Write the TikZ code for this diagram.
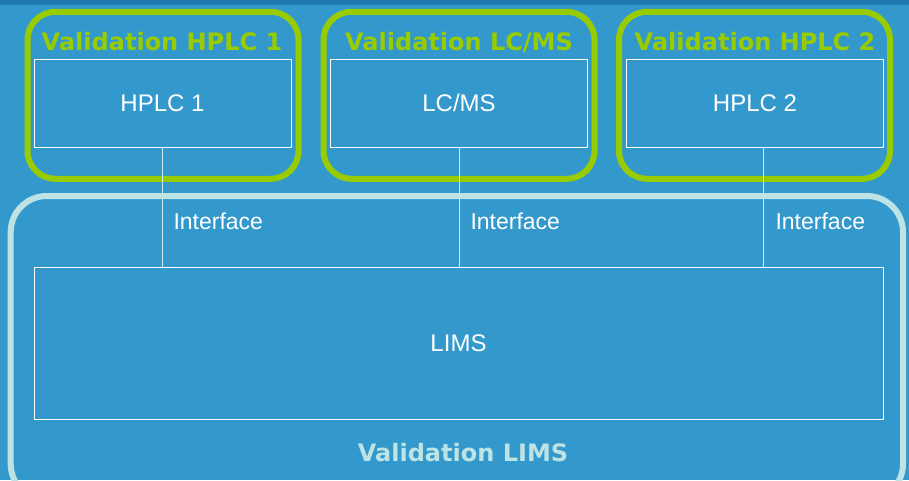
\documentclass[tikz,border=0pt]{standalone}
\usepackage{fontspec}
\setmainfont{Liberation Sans}
\newfontfamily\valfont{DejaVu Sans}
\usepackage{tikz}
\usetikzlibrary{calc}
\definecolor{bgblue}{rgb}{0.2,0.6,0.8}
\definecolor{topblue}{rgb}{0.13,0.47,0.68}
\definecolor{valgreen}{rgb}{0.6,0.8,0.}
\definecolor{limscyan}{rgb}{0.74,0.89,0.9}
\tikzstyle{every node}=[font=\fontsize{24}{28}\selectfont,text=white]

\begin{document}
\begin{tikzpicture}[line cap=round,line join=round,x=1pt,y=-1pt,
    devbox/.style={draw=white,line width=0.9pt,inner sep=0pt,minimum width=257pt,minimum height=88pt},
    valframe/.style={draw=valgreen,line width=6pt,rounded corners=28pt,inner sep=0pt,minimum width=271pt,minimum height=167pt},
    valtitle/.style={anchor=base,text=valgreen,font=\valfont\bfseries\fontsize{24}{28}\selectfont},
    iface/.style={draw=limscyan!80!white,line width=0.9pt},
    ifacelabel/.style={anchor=west,font=\fontsize{23}{27}\selectfont}]
    \useasboundingbox (0,0) rectangle (909,480);
    \clip (0,0) rectangle (909,480);
    \fill[bgblue] (0,0) rectangle (909,480);
    \fill[topblue] (0,0) rectangle (909,5);

    % validation LIMS frame
    \draw[limscyan,line width=6pt,rounded corners=36pt] (10.7,196) rectangle (903,500);

    % validation frames of the instruments
    \node[valframe] (valA) at (163,95.3) {};
    \node[valframe] (valB) at (459,95.3) {};
    \node[valframe] (valC) at (754.5,95.3) {};

    \node[valtitle] (titleA) at (162,50) {Validation HPLC 1};
    \node[valtitle] (titleB) at (459,50) {Validation LC/MS};
    \node[valtitle] (titleC) at (755,50) {Validation HPLC 2};

    \node[devbox] (hplcA) at (162.5,103) {HPLC 1};
    \node[devbox] (lcms) at (459,103) {LC/MS};
    \node[devbox] (hplcB) at (755,103) {HPLC 2};

    \node[devbox,minimum width=849pt,minimum height=152pt] (lims) at (458.5,343) {\raisebox{-2pt}{LIMS}};

    \draw[iface] (hplcA.south) -- (hplcA.south |- lims.north);
    \draw[iface] (lcms.south) -- (lcms.south |- lims.north);
    \draw[iface] ($(hplcB.south)+(8,0)$) -- ($(hplcB.south |- lims.north)+(8,0)$);

    \node[ifacelabel] (ifA) at (170,221) {Interface};
    \node[ifacelabel] (ifB) at (467,221) {Interface};
    \node[ifacelabel] (ifC) at (772,221) {Interface};

    \node[anchor=base,text=limscyan,font=\valfont\bfseries\fontsize{24}{28}\selectfont] (vallims) at (463,461) {Validation LIMS};
\end{tikzpicture}
\end{document}
